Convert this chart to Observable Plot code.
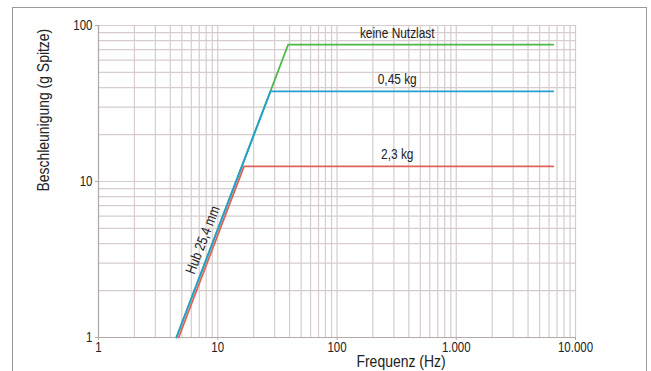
<!DOCTYPE html>
<html><head><meta charset="utf-8">
<script src="https://cdn.jsdelivr.net/npm/d3@7"></script>
<script src="https://cdn.jsdelivr.net/npm/@observablehq/plot@0.6"></script>
<style>
html,body{margin:0;padding:0;background:#fff;overflow:hidden;}
#wrap{position:relative;width:651px;height:371px;overflow:hidden;}
#chart{position:absolute;left:0;top:0;}
#frame{position:absolute;left:12px;top:7px;width:635px;height:420px;border:1.5px solid #9a9a9a;box-sizing:border-box;pointer-events:none;}
</style></head><body>
<div id="wrap"><div id="chart"></div><div id="frame"></div></div>
<script>
// Data
const seriesNames = ["keine Nutzlast", "0,45 kg", "2,3 kg"];
const seriesColors = ["#4cb848", "#249fd2", "#df625a"];
const freqGreen = [4.5, 39, 6500];
const accGreen  = [1, 75.5, 75.5];
const freqBlue  = [4.5, 27.7, 6500];
const accBlue   = [1, 37.8, 37.8];
const freqRed   = [4.7, 16.6, 6500];
const accRed    = [1, 12.5, 12.5];
const xTicks = [1, 10, 100, 1000, 10000];
const xTickLabels = ["1", "10", "100", "1.000", "10.000"];
const yTicks = [1, 10, 100];
const yTickLabels = ["1", "10", "100"];
const xTitle = "Frequenz (Hz)";
const yTitle = "Beschleunigung (g Spitze)";
const strokeLabel = "Hub 25,4 mm";
const strokeLabelPoint = {f: 9.15, a: 4.12};
const labelFreq = 320;

const toRows = (fs, as, name) => fs.map((f, i) => ({f, a: as[i], name}));
const green = toRows(freqGreen, accGreen, seriesNames[0]);
const blue = toRows(freqBlue, accBlue, seriesNames[1]);
const red = toRows(freqRed, accRed, seriesNames[2]);
const plateauLabels = [
  {f: labelFreq, a: accGreen[2], t: seriesNames[0]},
  {f: labelFreq, a: accBlue[2], t: seriesNames[1]},
  {f: labelFreq, a: accRed[2], t: seriesNames[2]}
];

// pick a narrow font if one exists, else condense Liberation Sans
function hasFont(name) {
  const c = document.createElement("canvas").getContext("2d");
  const s = "keine Nutzlast 0123456789";
  c.font = "20px monospace"; const w0 = c.measureText(s).width;
  c.font = `20px "${name}", monospace`; const w1 = c.measureText(s).width;
  return Math.abs(w0 - w1) > 0.5;
}
const narrowAvailable = hasFont("Liberation Sans Narrow");
const font = narrowAvailable ? '"Liberation Sans Narrow", sans-serif' : '"Liberation Sans", Arial, sans-serif';
const condense = narrowAvailable ? 1 : 0.82;
const gridColor = "#d6cccd";
const axisColor = "#b3a9a9";
const textColor = "#222";

const chart = Plot.plot({
  width: 651, height: 371,
  marginLeft: 98, marginRight: 76, marginTop: 25, marginBottom: 34,
  style: {fontFamily: font, fontSize: "14px", color: textColor, background: "transparent"},
  x: {type: "log", domain: [1, 10000]},
  y: {type: "log", domain: [1, 100]},
  marks: [
    Plot.gridX({ticks: 20, stroke: gridColor, strokeOpacity: 1, strokeWidth: 1.2}),
    Plot.gridY({ticks: 20, stroke: gridColor, strokeOpacity: 1, strokeWidth: 1.2}),
    Plot.ruleX([1], {stroke: axisColor, strokeWidth: 1.2}),
    Plot.ruleY([1], {stroke: axisColor, strokeWidth: 1.2}),
    Plot.axisX({ticks: xTicks, tickFormat: d => xTickLabels[xTicks.indexOf(d)], label: null, tickSize: 3, tickPadding: 2, stroke: axisColor, fill: textColor}),
    Plot.axisY({ticks: yTicks, tickFormat: d => yTickLabels[yTicks.indexOf(d)], label: null, tickSize: 3, tickPadding: 3, stroke: axisColor, fill: textColor}),
    Plot.line(red, {x: "f", y: "a", stroke: seriesColors[2], strokeWidth: 1.8}),
    Plot.line(green, {x: "f", y: "a", stroke: seriesColors[0], strokeWidth: 1.8}),
    Plot.line(blue, {x: "f", y: "a", stroke: seriesColors[1], strokeWidth: 1.8}),
    Plot.text(plateauLabels, {x: "f", y: "a", text: "t", dy: -7, lineAnchor: "bottom", fontSize: 14.5, fill: textColor}),
    Plot.text([strokeLabel], {x: () => strokeLabelPoint.f, y: () => strokeLabelPoint.a, text: d => d, rotate: -69, lineAnchor: "bottom", dx: -6, fontSize: 14.5, fill: textColor}),
    Plot.text([yTitle], {text: d => d, frameAnchor: "left", rotate: -90, dx: -55, dy: 10, fontSize: 17, lineAnchor: "middle", fill: textColor}),
    Plot.text([xTitle], {text: d => d, frameAnchor: "bottom", dx: 64, dy: 24.5, fontSize: 17, lineAnchor: "middle", fill: textColor})
  ]
});
document.getElementById("chart").append(chart);

if (condense !== 1) {
  chart.querySelectorAll("text").forEach(t => {
    const targets = t.querySelectorAll("tspan").length ? t.querySelectorAll("tspan") : [t];
    targets.forEach(el => {
      const w = el.getComputedTextLength();
      if (w > 0) {
        el.setAttribute("textLength", (w * condense).toFixed(2));
        el.setAttribute("lengthAdjust", "spacingAndGlyphs");
      }
    });
  });
}
</script>
</body></html>
